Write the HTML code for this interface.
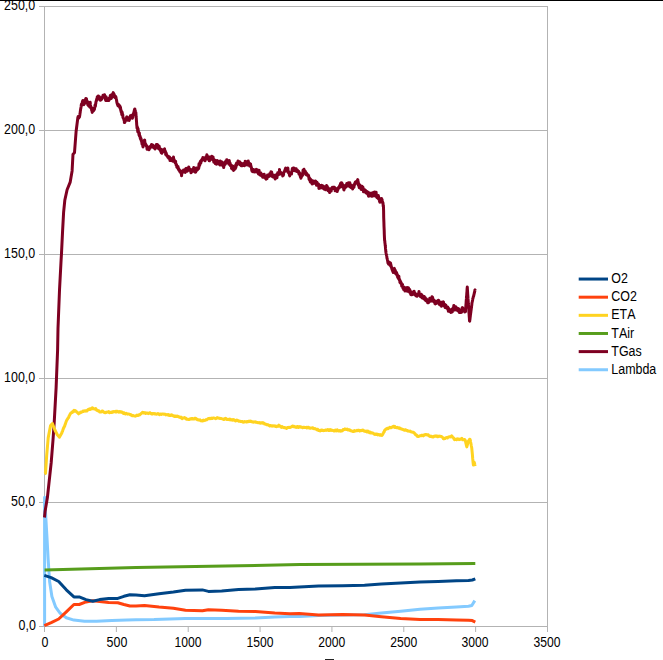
<!DOCTYPE html><html><head><meta charset="utf-8"><title>chart</title><style>html,body{margin:0;padding:0;background:#fff;}svg{display:block}text{font-family:"Liberation Sans",sans-serif;font-size:14.67px;fill:#000;font-kerning:none}</style></head><body>
<svg width="663" height="660" viewBox="0 0 663 660">
<rect x="0" y="0" width="663" height="660" fill="#fff"/>
<line x1="39" y1="6.5" x2="548" y2="6.5" stroke="#b3b3b3" stroke-width="1"/>
<line x1="39" y1="130.5" x2="548" y2="130.5" stroke="#b3b3b3" stroke-width="1"/>
<line x1="39" y1="254.5" x2="548" y2="254.5" stroke="#b3b3b3" stroke-width="1"/>
<line x1="39" y1="378.5" x2="548" y2="378.5" stroke="#b3b3b3" stroke-width="1"/>
<line x1="39" y1="502.5" x2="548" y2="502.5" stroke="#b3b3b3" stroke-width="1"/>
<line x1="39" y1="626.5" x2="548" y2="626.5" stroke="#b3b3b3" stroke-width="1"/>
<line x1="44.5" y1="6" x2="44.5" y2="627" stroke="#b3b3b3" stroke-width="1"/>
<line x1="547.5" y1="6" x2="547.5" y2="632" stroke="#b3b3b3" stroke-width="1"/>
<line x1="44.5" y1="626" x2="44.5" y2="632" stroke="#b3b3b3" stroke-width="1"/>
<line x1="116.36" y1="626" x2="116.36" y2="632" stroke="#b3b3b3" stroke-width="1"/>
<line x1="188.21" y1="626" x2="188.21" y2="632" stroke="#b3b3b3" stroke-width="1"/>
<line x1="260.07" y1="626" x2="260.07" y2="632" stroke="#b3b3b3" stroke-width="1"/>
<line x1="331.93" y1="626" x2="331.93" y2="632" stroke="#b3b3b3" stroke-width="1"/>
<line x1="403.79" y1="626" x2="403.79" y2="632" stroke="#b3b3b3" stroke-width="1"/>
<line x1="475.64" y1="626" x2="475.64" y2="632" stroke="#b3b3b3" stroke-width="1"/>
<line x1="547.5" y1="626" x2="547.5" y2="632" stroke="#b3b3b3" stroke-width="1"/>
<polyline points="44.6,626.5 44.6,497.2 46.9,536.0 48.1,558.7 49.6,581.5 51.9,596.6 55.7,607.2 60.2,613.3 66.3,617.8 73.9,620.1 84.5,621.2 96.6,621.3 111.8,620.5 126.9,620.1 136.0,619.7 154.1,619.5 185.5,618.4 226.5,618.4 255.5,617.9 274.8,617.0 290.0,616.5 299.3,616.4 318.6,615.5 342.7,615.0 364.5,614.8 381.4,613.1 400.7,611.2 420.0,609.2 438.2,607.9 456.4,607.0 468.5,606.3 471.8,605.5 474.8,600.6" fill="none" stroke="#83caff" stroke-width="3.0" stroke-linejoin="round" stroke-linecap="butt"/>
<polyline points="44.5,517.5 45.1,511.2 47.4,497.6 51.2,462.7 53.0,440.0 54.2,422.7 56.1,387.9 57.6,350.0 58.0,328.2 59.5,290.3 61.1,260.0 61.5,253.3 62.6,230.6 63.6,212.4 64.8,200.3 67.1,189.7 70.2,182.1 72.1,170.9 73.0,154.2 74.5,152.7 76.1,131.5 77.9,117.2 78.1,118.1 78.2,116.4 78.4,117.5 78.5,116.6 78.7,116.2 78.8,118.0 79.0,116.9 79.1,116.3 79.3,116.7 79.4,117.1 79.6,116.1 79.7,115.8 79.9,114.4 80.0,113.5 80.2,112.5 80.3,111.3 80.5,110.3 80.6,109.2 80.8,108.5 80.9,107.7 81.1,106.7 81.2,105.7 81.4,104.3 81.5,104.8 81.7,105.0 81.8,105.4 82.0,103.8 82.1,103.6 82.3,101.8 82.4,102.5 82.6,100.9 82.7,101.0 82.9,103.1 83.0,100.5 83.2,102.3 83.3,102.6 83.5,102.4 83.6,103.2 83.8,103.8 83.9,104.7 84.1,104.0 84.2,103.7 84.4,103.2 84.5,102.4 84.7,102.8 84.8,102.0 85.0,103.2 85.1,100.7 85.3,100.4 85.4,100.2 85.6,98.9 85.7,101.9 85.9,98.6 86.0,99.3 86.2,99.1 86.3,101.2 86.5,98.8 86.6,101.1 86.8,100.4 86.9,101.0 87.1,100.9 87.2,102.3 87.4,101.4 87.5,102.3 87.7,103.2 87.8,105.0 88.0,102.0 88.1,104.9 88.3,105.4 88.4,104.3 88.6,104.8 88.7,104.3 88.9,106.2 89.0,105.5 89.2,105.0 89.3,105.0 89.5,105.1 89.6,105.2 89.8,104.7 89.9,107.3 90.1,104.6 90.2,102.3 90.4,104.9 90.5,105.7 90.7,106.6 90.8,106.4 91.0,106.8 91.1,107.6 91.3,108.8 91.4,108.1 91.6,108.3 91.7,110.8 91.9,110.6 92.0,109.4 92.2,112.4 92.3,112.2 92.5,111.2 92.6,110.7 92.8,111.4 92.9,110.4 93.1,109.7 93.2,109.1 93.4,109.4 93.5,110.7 93.7,109.5 93.8,108.0 94.0,109.3 94.1,108.9 94.3,109.3 94.4,109.5 94.6,108.1 94.7,107.2 94.9,106.7 95.0,105.2 95.2,106.0 95.3,106.5 95.5,105.2 95.6,104.0 95.8,103.3 95.9,102.2 96.1,101.5 96.2,101.3 96.4,100.4 96.5,100.3 96.7,99.0 96.8,100.1 97.0,99.9 97.1,98.5 97.3,96.8 97.4,98.1 97.6,99.3 97.7,97.7 97.9,97.2 98.0,96.7 98.2,97.4 98.3,96.0 98.5,97.6 98.6,97.0 98.8,98.1 98.9,97.8 99.1,97.6 99.2,96.5 99.4,97.0 99.5,97.7 99.7,98.9 99.8,99.0 100.0,98.3 100.1,99.3 100.3,100.2 100.4,99.6 100.6,99.3 100.7,99.1 100.9,100.0 101.0,99.9 101.2,98.4 101.3,99.0 101.5,98.2 101.6,97.6 101.8,99.1 101.9,99.0 102.1,97.5 102.2,97.6 102.4,97.9 102.5,96.8 102.7,96.9 102.8,97.5 103.0,95.3 103.1,96.5 103.3,97.1 103.4,96.9 103.6,95.1 103.7,96.0 103.9,95.0 104.0,95.9 104.2,96.1 104.3,95.7 104.5,94.7 104.6,95.0 104.8,96.6 104.9,95.7 105.1,97.0 105.2,97.6 105.4,97.3 105.5,99.9 105.7,98.8 105.8,100.6 106.0,97.6 106.1,96.7 106.3,99.6 106.4,100.4 106.6,100.1 106.7,100.4 106.9,98.6 107.0,99.2 107.2,98.9 107.3,99.5 107.5,100.6 107.6,100.1 107.8,100.1 107.9,99.1 108.1,99.0 108.2,99.3 108.4,99.0 108.5,100.3 108.7,98.6 108.8,100.5 109.0,98.4 109.1,99.5 109.3,98.1 109.4,99.8 109.6,98.8 109.7,98.7 109.9,98.8 110.0,97.5 110.2,96.7 110.3,95.4 110.5,97.9 110.6,96.8 110.8,96.4 110.9,96.8 111.1,98.6 111.2,95.7 111.4,96.4 111.5,95.9 111.7,96.5 111.8,94.4 112.0,95.0 112.1,96.1 112.3,97.0 112.4,97.2 112.6,94.9 112.7,94.9 112.9,94.6 113.0,93.2 113.2,92.6 113.3,94.3 113.5,94.2 113.6,94.0 113.8,95.3 113.9,93.8 114.1,94.9 114.2,94.9 114.4,94.9 114.5,95.6 114.7,95.6 114.8,95.8 115.0,96.0 115.1,97.7 115.3,96.3 115.4,97.2 115.6,97.2 115.7,96.5 115.9,97.1 116.0,97.6 116.2,98.7 116.3,99.1 116.5,99.8 116.6,100.7 116.8,101.6 116.9,102.5 117.1,103.2 117.2,103.7 117.4,103.4 117.5,104.7 117.7,105.0 117.8,104.1 118.0,105.7 118.1,105.6 118.3,104.6 118.4,105.8 118.6,104.6 118.7,104.8 118.9,106.2 119.0,104.9 119.2,106.2 119.3,105.4 119.5,107.2 119.6,106.5 119.8,107.3 119.9,106.1 120.1,107.0 120.2,108.5 120.4,108.8 120.5,107.2 120.7,109.5 120.8,110.6 121.0,110.1 121.1,111.9 121.3,110.6 121.4,111.4 121.6,113.1 121.7,114.1 121.9,114.7 122.0,113.1 122.2,112.3 122.3,114.4 122.5,113.8 122.6,115.1 122.8,114.7 122.9,117.1 123.1,117.8 123.2,118.1 123.4,118.1 123.5,118.4 123.7,118.5 123.8,119.4 124.0,119.9 124.1,120.5 124.3,120.2 124.4,122.6 124.6,121.9 124.7,122.5 124.9,122.5 125.0,120.4 125.2,118.9 125.3,121.1 125.5,120.1 125.6,120.1 125.8,119.7 125.9,119.9 126.1,118.6 126.2,119.1 126.4,118.8 126.5,119.0 126.7,116.9 126.8,119.0 127.0,119.1 127.1,117.1 127.3,117.5 127.4,118.4 127.6,119.2 127.7,119.0 127.9,120.2 128.0,119.3 128.2,118.2 128.3,118.2 128.5,119.5 128.6,118.7 128.8,119.8 128.9,120.3 129.1,120.1 129.2,120.5 129.4,119.6 129.5,119.3 129.7,118.4 129.8,117.9 130.0,116.7 130.1,117.0 130.3,116.4 130.4,115.7 130.6,116.7 130.7,117.1 130.9,116.3 131.0,117.6 131.2,117.7 131.3,117.9 131.5,116.5 131.6,115.3 131.8,116.8 131.9,117.1 132.1,117.6 132.2,117.5 132.4,118.3 132.5,117.2 132.7,117.7 132.8,116.5 133.0,115.5 133.1,115.2 133.3,115.1 133.4,113.9 133.6,113.7 133.7,112.8 133.9,112.2 134.0,111.7 134.2,111.1 134.3,110.3 134.5,109.8 134.6,109.3 134.8,109.8 134.9,109.1 135.1,111.3 135.2,112.6 135.4,113.9 135.5,111.2 135.7,112.1 135.8,112.2 136.0,114.5 136.1,116.7 136.3,118.3 136.4,120.1 136.6,122.5 136.7,124.6 136.9,126.4 137.0,128.1 137.2,126.4 137.3,127.8 137.5,129.3 137.6,130.0 137.8,131.7 137.9,130.0 138.1,128.7 138.2,131.0 138.4,131.0 138.5,132.1 138.7,133.0 138.8,133.4 139.0,134.6 139.1,135.1 139.3,132.7 139.4,133.7 139.6,136.3 139.7,135.3 139.9,136.5 140.0,136.4 140.2,136.3 140.3,138.5 140.5,139.0 140.6,138.4 140.8,139.6 140.9,138.3 141.1,138.8 141.2,140.8 141.4,140.9 141.5,140.3 141.7,141.8 141.8,142.5 142.0,143.9 142.1,144.3 142.3,143.6 142.4,143.6 142.6,144.2 142.7,144.6 142.9,146.6 143.0,147.0 143.2,146.5 143.3,145.1 143.5,143.9 143.6,144.2 143.8,142.8 143.9,142.6 144.1,140.5 144.2,140.7 144.4,142.1 144.5,140.6 144.7,140.1 144.8,141.5 145.0,143.9 145.1,144.7 145.3,143.7 145.4,143.6 145.6,144.2 145.7,144.0 145.9,145.1 146.0,145.4 146.2,144.8 146.3,145.7 146.5,146.5 146.6,146.2 146.8,145.9 146.9,147.7 147.1,149.2 147.2,147.8 147.4,147.3 147.5,148.0 147.7,147.7 147.8,147.1 148.0,149.0 148.1,147.4 148.3,147.3 148.4,147.3 148.6,147.2 148.7,147.8 148.9,148.8 149.0,149.8 149.2,149.3 149.3,148.5 149.5,146.9 149.6,147.5 149.8,146.7 149.9,147.2 150.1,148.2 150.2,147.7 150.4,147.0 150.5,146.2 150.7,146.6 150.8,146.7 151.0,145.7 151.1,145.7 151.3,146.8 151.4,144.8 151.6,145.1 151.7,144.5 151.9,146.7 152.0,146.4 152.2,146.4 152.3,146.4 152.5,146.4 152.6,146.5 152.8,144.9 152.9,146.2 153.1,147.0 153.2,145.6 153.4,147.3 153.5,147.7 153.7,146.0 153.8,146.5 154.0,146.9 154.1,147.0 154.3,147.9 154.4,146.8 154.6,147.5 154.7,148.2 154.9,149.0 155.0,148.7 155.2,148.2 155.3,148.7 155.5,146.4 155.6,148.2 155.8,147.5 155.9,146.3 156.1,146.5 156.2,145.2 156.4,144.5 156.5,145.7 156.7,145.6 156.8,146.8 157.0,145.6 157.1,144.7 157.3,144.6 157.4,146.9 157.6,145.9 157.7,145.3 157.9,145.0 158.0,145.0 158.2,146.0 158.3,147.1 158.5,148.3 158.6,148.8 158.8,148.4 158.9,147.6 159.1,147.4 159.2,146.2 159.4,147.3 159.5,149.1 159.7,149.1 159.8,149.8 160.0,148.7 160.1,150.5 160.3,150.6 160.4,150.6 160.6,151.0 160.7,148.9 160.9,149.9 161.0,150.1 161.2,152.7 161.3,151.9 161.5,151.4 161.6,152.7 161.8,151.5 161.9,153.3 162.1,151.8 162.2,151.8 162.4,151.0 162.5,152.2 162.7,149.7 162.8,151.5 163.0,150.6 163.1,151.0 163.3,150.0 163.4,150.8 163.6,150.9 163.7,151.3 163.9,151.0 164.0,151.1 164.2,151.4 164.3,150.2 164.5,149.0 164.6,148.8 164.8,150.8 164.9,150.6 165.1,152.2 165.2,151.9 165.4,151.2 165.5,152.9 165.7,154.6 165.8,153.5 166.0,152.7 166.1,152.8 166.3,154.6 166.4,154.1 166.6,154.3 166.7,155.6 166.9,155.7 167.0,156.0 167.2,155.7 167.3,155.5 167.5,156.3 167.6,156.6 167.8,157.1 167.9,156.4 168.1,157.0 168.2,157.4 168.4,157.2 168.5,157.7 168.7,158.3 168.8,157.8 169.0,157.6 169.1,156.7 169.3,157.7 169.4,157.7 169.6,157.5 169.7,157.1 169.9,158.3 170.0,160.6 170.2,159.4 170.3,158.8 170.5,159.1 170.6,158.3 170.8,158.8 170.9,158.4 171.1,158.4 171.2,159.3 171.4,159.7 171.5,159.6 171.7,159.1 171.8,160.0 172.0,159.1 172.1,160.7 172.3,160.3 172.4,160.5 172.6,161.1 172.7,161.0 172.9,159.2 173.0,159.5 173.2,160.0 173.3,158.8 173.5,157.1 173.6,158.6 173.8,159.0 173.9,159.4 174.1,159.6 174.2,160.0 174.4,160.4 174.5,161.8 174.7,161.7 174.8,161.9 175.0,161.4 175.1,162.8 175.3,162.3 175.4,163.3 175.6,161.2 175.7,163.0 175.9,163.4 176.0,163.5 176.2,165.3 176.3,165.3 176.5,165.0 176.6,164.8 176.8,167.1 176.9,167.0 177.1,167.1 177.2,166.0 177.4,167.8 177.5,167.9 177.7,167.4 177.8,167.6 178.0,166.5 178.1,168.4 178.3,167.6 178.4,169.4 178.6,168.9 178.7,168.8 178.9,169.9 179.0,170.3 179.2,169.4 179.3,170.3 179.5,171.3 179.6,171.0 179.8,170.1 179.9,171.0 180.1,170.8 180.2,171.3 180.4,172.1 180.5,172.5 180.7,172.6 180.8,171.5 181.0,173.2 181.1,173.3 181.3,173.4 181.4,174.0 181.6,175.8 181.7,173.1 181.9,171.7 182.0,173.2 182.2,171.9 182.3,173.2 182.5,171.3 182.6,170.9 182.8,171.7 182.9,171.7 183.1,171.2 183.2,171.1 183.4,170.5 183.5,170.0 183.7,170.0 183.8,171.4 184.0,171.2 184.1,170.5 184.3,170.6 184.4,171.0 184.6,171.4 184.7,170.3 184.9,170.0 185.0,170.3 185.2,172.4 185.3,170.9 185.5,171.3 185.6,168.9 185.8,170.3 185.9,168.6 186.1,168.4 186.2,168.7 186.4,169.1 186.5,169.5 186.7,169.7 186.8,169.5 187.0,168.8 187.1,171.3 187.3,169.9 187.4,169.7 187.6,170.8 187.7,170.1 187.9,169.5 188.0,169.0 188.2,170.2 188.3,167.8 188.5,167.4 188.6,168.4 188.8,166.9 188.9,167.7 189.1,169.8 189.2,169.1 189.4,169.6 189.5,170.3 189.7,169.0 189.8,170.0 190.0,169.7 190.1,169.3 190.3,170.0 190.4,170.5 190.6,170.5 190.7,170.4 190.9,172.0 191.0,172.7 191.2,172.6 191.3,172.1 191.5,171.0 191.6,170.6 191.8,170.0 191.9,170.8 192.1,171.4 192.2,171.4 192.4,170.3 192.5,169.5 192.7,169.5 192.8,169.2 193.0,169.5 193.1,170.5 193.3,169.0 193.4,171.1 193.6,168.0 193.7,167.5 193.9,167.6 194.0,168.2 194.2,169.1 194.3,171.5 194.5,169.8 194.6,171.0 194.8,170.1 194.9,170.4 195.1,169.5 195.2,172.3 195.4,170.9 195.5,169.9 195.7,172.1 195.8,170.8 196.0,170.5 196.1,169.9 196.3,169.0 196.4,168.1 196.6,168.9 196.7,170.6 196.9,170.0 197.0,169.2 197.2,170.0 197.3,168.3 197.5,169.8 197.6,169.0 197.8,167.9 197.9,168.8 198.1,168.9 198.2,168.1 198.4,168.0 198.5,168.3 198.7,168.5 198.8,166.3 199.0,163.8 199.1,166.9 199.3,165.5 199.4,164.7 199.6,164.9 199.7,163.9 199.9,164.7 200.0,162.6 200.2,162.6 200.3,161.4 200.5,163.2 200.6,162.0 200.8,162.7 200.9,163.0 201.1,160.5 201.2,160.5 201.4,161.2 201.5,160.6 201.7,160.1 201.8,160.6 202.0,160.6 202.1,159.1 202.3,158.9 202.4,159.3 202.6,158.9 202.7,158.5 202.9,157.4 203.0,159.7 203.2,158.6 203.3,158.8 203.5,158.6 203.6,158.7 203.8,158.8 203.9,158.0 204.1,158.9 204.2,159.9 204.4,159.6 204.5,159.8 204.7,159.7 204.8,159.3 205.0,160.8 205.1,158.9 205.3,159.1 205.4,159.7 205.6,159.0 205.7,157.5 205.9,156.9 206.0,159.0 206.2,157.2 206.3,157.4 206.5,157.9 206.6,157.5 206.8,155.6 206.9,154.7 207.1,156.1 207.2,156.2 207.4,156.9 207.5,157.6 207.7,158.1 207.8,157.1 208.0,156.7 208.1,159.1 208.3,158.6 208.4,158.1 208.6,157.4 208.7,159.7 208.9,159.0 209.0,159.1 209.2,160.7 209.3,160.7 209.5,160.8 209.6,159.1 209.8,157.0 209.9,158.0 210.1,158.7 210.2,158.5 210.4,159.8 210.5,159.5 210.7,158.1 210.8,159.0 211.0,158.5 211.1,157.9 211.3,159.1 211.4,156.8 211.6,158.4 211.7,158.9 211.9,156.2 212.0,157.2 212.2,157.7 212.3,157.1 212.5,157.6 212.6,157.6 212.8,158.6 212.9,158.4 213.1,157.1 213.2,159.8 213.4,160.5 213.5,159.3 213.7,160.6 213.8,162.2 214.0,159.5 214.1,159.9 214.3,160.1 214.4,161.2 214.6,160.9 214.7,160.0 214.9,162.1 215.0,161.4 215.2,162.1 215.3,163.7 215.5,161.5 215.6,161.1 215.8,162.2 215.9,161.7 216.1,162.1 216.2,161.7 216.4,164.2 216.5,163.0 216.7,162.4 216.8,162.0 217.0,162.1 217.1,160.4 217.3,161.1 217.4,162.2 217.6,160.8 217.7,161.5 217.9,161.6 218.0,161.3 218.2,163.9 218.3,163.1 218.5,162.5 218.6,161.4 218.8,161.8 218.9,161.6 219.1,161.7 219.2,162.1 219.4,164.3 219.5,163.9 219.7,164.1 219.8,163.9 220.0,165.1 220.1,162.4 220.3,161.0 220.4,161.9 220.6,162.3 220.7,162.2 220.9,161.6 221.0,162.7 221.2,164.2 221.3,163.4 221.5,162.9 221.6,164.3 221.8,163.4 221.9,163.3 222.1,164.1 222.2,162.1 222.4,165.4 222.5,164.8 222.7,165.3 222.8,165.4 223.0,165.7 223.1,164.1 223.3,166.3 223.4,165.8 223.6,165.3 223.7,167.6 223.9,164.2 224.0,164.9 224.2,164.2 224.3,162.7 224.5,165.2 224.6,162.7 224.8,163.4 224.9,163.3 225.1,163.4 225.2,162.3 225.4,164.0 225.5,163.3 225.7,161.7 225.8,161.1 226.0,162.2 226.1,161.1 226.3,162.2 226.4,162.3 226.6,161.4 226.7,159.8 226.9,159.8 227.0,161.2 227.2,160.7 227.3,162.6 227.5,161.0 227.6,161.2 227.8,161.7 227.9,161.5 228.1,161.8 228.2,162.7 228.4,162.0 228.5,162.4 228.7,162.0 228.8,164.2 229.0,163.3 229.1,163.8 229.3,160.6 229.4,162.1 229.6,162.1 229.7,163.3 229.9,163.4 230.0,163.0 230.2,163.7 230.3,165.0 230.5,165.8 230.6,164.7 230.8,166.0 230.9,165.0 231.1,165.9 231.2,165.0 231.4,166.6 231.5,168.4 231.7,166.7 231.8,167.7 232.0,165.7 232.1,165.9 232.3,169.1 232.4,167.7 232.6,167.9 232.7,166.1 232.9,167.2 233.0,166.9 233.2,168.7 233.3,167.8 233.5,170.4 233.6,168.0 233.8,168.7 233.9,166.9 234.1,167.9 234.2,169.7 234.4,169.2 234.5,167.8 234.7,168.7 234.8,169.2 235.0,168.7 235.1,168.8 235.3,166.4 235.4,168.5 235.6,167.9 235.7,164.9 235.9,167.4 236.0,165.9 236.2,166.1 236.3,163.8 236.5,164.1 236.6,163.0 236.8,164.9 236.9,164.3 237.1,163.3 237.2,163.4 237.4,164.5 237.5,163.0 237.7,163.6 237.8,162.0 238.0,160.9 238.1,161.5 238.3,161.8 238.4,162.5 238.6,163.5 238.7,162.7 238.9,162.6 239.0,163.7 239.2,163.8 239.3,163.5 239.5,163.8 239.6,161.8 239.8,162.8 239.9,162.2 240.1,163.3 240.2,164.9 240.4,163.1 240.5,165.0 240.7,164.4 240.8,164.6 241.0,164.5 241.1,165.7 241.3,164.8 241.4,163.2 241.6,164.9 241.7,164.9 241.9,165.6 242.0,165.8 242.2,164.2 242.3,164.9 242.5,165.1 242.6,164.9 242.8,165.0 242.9,165.2 243.1,164.4 243.2,164.5 243.4,165.5 243.5,164.0 243.7,164.4 243.8,163.6 244.0,163.3 244.1,163.8 244.3,164.4 244.4,165.7 244.6,164.5 244.7,165.1 244.9,164.9 245.0,164.3 245.2,161.2 245.3,163.2 245.5,163.6 245.6,162.7 245.8,163.4 245.9,164.8 246.1,162.8 246.2,162.7 246.4,163.9 246.5,161.7 246.7,161.7 246.8,162.9 247.0,163.7 247.1,164.2 247.3,163.8 247.4,165.1 247.6,163.6 247.7,161.6 247.9,162.0 248.0,162.7 248.2,163.0 248.3,161.1 248.5,162.8 248.6,162.3 248.8,162.9 248.9,164.7 249.1,163.9 249.2,163.3 249.4,163.8 249.5,163.6 249.7,166.1 249.8,165.9 250.0,166.0 250.1,164.8 250.3,164.6 250.4,165.6 250.6,163.9 250.7,166.6 250.9,165.5 251.0,166.7 251.2,167.5 251.3,167.0 251.5,168.1 251.6,169.0 251.8,170.6 251.9,169.9 252.1,171.3 252.2,170.7 252.4,170.1 252.5,171.2 252.7,170.4 252.8,170.7 253.0,171.2 253.1,171.8 253.3,171.2 253.4,169.5 253.6,171.4 253.7,171.0 253.9,170.5 254.0,169.8 254.2,170.9 254.3,171.0 254.5,171.3 254.6,170.7 254.8,172.0 254.9,170.8 255.1,171.0 255.2,170.9 255.4,171.7 255.5,170.3 255.7,170.2 255.8,170.3 256.0,169.9 256.1,169.8 256.3,169.3 256.4,170.9 256.6,172.1 256.7,170.4 256.9,171.5 257.0,170.2 257.2,170.2 257.3,170.7 257.5,171.3 257.6,171.9 257.8,170.0 257.9,170.1 258.1,171.4 258.2,171.6 258.4,173.9 258.5,172.5 258.7,171.8 258.8,173.4 259.0,170.4 259.1,170.3 259.3,174.5 259.4,172.9 259.6,173.1 259.7,173.1 259.9,172.6 260.0,173.3 260.2,172.6 260.3,174.5 260.5,175.1 260.6,175.3 260.8,174.1 260.9,172.9 261.1,174.0 261.2,173.9 261.4,175.4 261.5,174.2 261.7,174.6 261.8,175.6 262.0,176.1 262.1,175.9 262.3,174.6 262.4,174.7 262.6,177.2 262.7,176.9 262.9,175.2 263.0,177.1 263.2,175.8 263.3,175.5 263.5,174.6 263.6,176.4 263.8,175.7 263.9,175.3 264.1,174.6 264.2,174.2 264.4,175.5 264.5,175.9 264.7,177.6 264.8,176.0 265.0,176.1 265.1,177.5 265.3,177.9 265.4,176.8 265.6,178.6 265.7,178.3 265.9,178.8 266.0,178.6 266.2,179.2 266.3,178.0 266.5,177.7 266.6,178.7 266.8,178.3 266.9,178.0 267.1,178.5 267.2,177.8 267.4,177.6 267.5,175.1 267.7,175.7 267.8,177.0 268.0,175.8 268.1,175.8 268.3,176.2 268.4,175.9 268.6,176.6 268.7,176.3 268.9,175.6 269.0,176.4 269.2,175.2 269.3,174.4 269.5,175.0 269.6,175.4 269.8,174.7 269.9,173.5 270.1,173.6 270.2,174.2 270.4,174.7 270.5,175.7 270.7,174.1 270.8,173.5 271.0,171.8 271.1,174.5 271.3,175.1 271.4,174.5 271.6,173.8 271.7,172.0 271.9,174.6 272.0,174.1 272.2,176.1 272.3,176.2 272.5,176.8 272.6,175.8 272.8,176.8 272.9,174.9 273.1,177.0 273.2,176.3 273.4,175.1 273.5,175.6 273.7,175.2 273.8,176.3 274.0,175.8 274.1,175.3 274.3,176.0 274.4,176.4 274.6,177.0 274.7,177.6 274.9,178.4 275.0,178.0 275.2,179.0 275.3,175.7 275.5,176.6 275.6,177.7 275.8,175.8 275.9,176.1 276.1,176.5 276.2,174.8 276.4,175.1 276.5,176.1 276.7,175.4 276.8,176.8 277.0,177.8 277.1,175.7 277.3,174.0 277.4,174.4 277.6,173.9 277.7,172.8 277.9,173.3 278.0,173.3 278.2,173.3 278.3,174.3 278.5,174.7 278.6,174.1 278.8,173.1 278.9,173.4 279.1,173.0 279.2,173.0 279.4,171.8 279.5,169.4 279.7,172.1 279.8,171.5 280.0,171.6 280.1,172.2 280.3,172.4 280.4,172.4 280.6,174.1 280.7,173.5 280.9,173.5 281.0,172.6 281.2,173.1 281.3,173.9 281.5,173.8 281.6,174.2 281.8,173.3 281.9,174.3 282.1,173.5 282.2,173.8 282.4,173.7 282.5,174.7 282.7,175.9 282.8,175.6 283.0,174.5 283.1,174.7 283.3,175.3 283.4,174.9 283.6,174.4 283.7,172.5 283.9,172.2 284.0,171.8 284.2,171.6 284.3,171.9 284.5,171.6 284.6,170.9 284.8,171.3 284.9,170.0 285.1,169.7 285.2,169.8 285.4,168.5 285.5,168.6 285.7,168.1 285.8,168.2 286.0,169.0 286.1,169.2 286.3,169.7 286.4,169.8 286.6,168.5 286.7,170.7 286.9,170.9 287.0,168.6 287.2,168.4 287.3,168.5 287.5,169.2 287.6,170.1 287.8,170.1 287.9,168.0 288.1,172.5 288.2,172.3 288.4,172.4 288.5,171.3 288.7,172.0 288.8,173.2 289.0,172.5 289.1,174.0 289.3,173.7 289.4,175.2 289.6,174.6 289.7,175.9 289.9,173.1 290.0,174.9 290.2,174.3 290.3,173.2 290.5,174.0 290.6,172.8 290.8,173.3 290.9,173.4 291.1,173.3 291.2,174.1 291.4,173.4 291.5,174.1 291.7,172.4 291.8,171.3 292.0,171.0 292.1,170.3 292.3,168.8 292.4,169.4 292.6,168.2 292.7,168.5 292.9,168.7 293.0,168.5 293.2,168.0 293.3,169.0 293.5,169.2 293.6,170.5 293.8,170.3 293.9,170.5 294.1,169.3 294.2,169.1 294.4,168.3 294.5,168.4 294.7,169.8 294.8,169.5 295.0,169.5 295.1,169.1 295.3,170.9 295.4,170.0 295.6,170.9 295.7,170.1 295.9,170.8 296.0,169.4 296.2,168.7 296.3,170.8 296.5,170.2 296.6,170.6 296.8,171.4 296.9,171.5 297.1,171.3 297.2,170.0 297.4,170.1 297.5,170.9 297.7,171.7 297.8,171.9 298.0,172.0 298.1,171.0 298.3,171.5 298.4,172.6 298.6,171.4 298.7,171.3 298.9,172.8 299.0,174.2 299.2,173.8 299.3,173.5 299.5,172.8 299.6,173.6 299.8,173.5 299.9,174.5 300.1,175.6 300.2,175.9 300.4,177.0 300.5,175.5 300.6,175.1 300.8,177.5 300.9,178.2 301.1,176.9 301.2,177.0 301.4,175.7 301.5,176.1 301.7,176.2 301.8,176.6 302.0,174.8 302.1,173.7 302.3,174.8 302.4,174.1 302.6,175.2 302.7,173.0 302.9,172.5 303.0,170.3 303.2,172.8 303.3,173.6 303.5,172.7 303.6,171.6 303.8,169.4 303.9,169.2 304.1,169.6 304.2,172.2 304.4,172.1 304.5,170.9 304.7,171.5 304.8,172.0 305.0,172.1 305.1,171.0 305.3,171.2 305.4,172.7 305.6,172.9 305.7,172.2 305.9,174.6 306.0,173.5 306.2,172.6 306.3,173.6 306.5,174.0 306.6,173.3 306.8,175.0 306.9,174.9 307.1,174.1 307.2,174.7 307.4,175.0 307.5,174.5 307.7,175.5 307.8,174.8 308.0,175.1 308.1,176.2 308.3,175.0 308.4,175.7 308.6,175.6 308.7,177.2 308.9,176.8 309.0,179.0 309.2,179.6 309.3,178.0 309.5,178.5 309.6,178.2 309.8,178.6 309.9,179.5 310.1,180.6 310.2,181.7 310.4,181.9 310.5,179.2 310.7,179.3 310.8,179.7 311.0,179.9 311.1,180.4 311.3,181.2 311.4,180.6 311.6,180.4 311.7,183.1 311.9,182.6 312.0,183.9 312.2,181.9 312.3,183.2 312.5,183.9 312.6,183.8 312.8,181.9 312.9,182.5 313.1,181.5 313.2,180.9 313.4,181.8 313.5,182.5 313.7,182.1 313.8,182.0 314.0,182.7 314.1,181.7 314.3,182.5 314.4,183.0 314.6,183.1 314.7,183.0 314.9,181.6 315.0,181.8 315.2,181.8 315.3,182.8 315.5,181.1 315.6,182.3 315.8,181.3 315.9,183.1 316.1,182.6 316.2,183.1 316.4,184.2 316.5,185.3 316.7,183.3 316.8,183.8 317.0,182.2 317.1,183.4 317.3,183.4 317.4,184.7 317.6,184.5 317.7,184.8 317.9,183.8 318.0,184.4 318.2,184.0 318.3,185.0 318.5,183.9 318.6,185.4 318.8,186.7 318.9,188.5 319.1,188.2 319.2,188.1 319.4,187.6 319.5,188.3 319.7,187.2 319.8,187.3 320.0,185.5 320.1,186.2 320.3,188.1 320.4,186.1 320.6,187.5 320.7,187.4 320.9,187.1 321.0,187.5 321.2,187.3 321.3,186.1 321.5,186.7 321.6,185.2 321.8,187.7 321.9,187.0 322.1,187.5 322.2,186.0 322.4,187.9 322.5,187.7 322.7,187.0 322.8,186.6 323.0,186.7 323.1,185.9 323.3,186.4 323.4,186.6 323.6,187.3 323.7,188.7 323.9,188.9 324.0,188.3 324.2,188.6 324.3,188.0 324.5,187.8 324.6,186.8 324.8,187.0 324.9,187.2 325.1,188.5 325.2,188.7 325.4,189.1 325.5,189.7 325.7,189.3 325.8,188.3 326.0,187.5 326.1,187.3 326.3,187.9 326.4,186.5 326.6,185.4 326.7,186.2 326.9,187.9 327.0,188.7 327.2,188.5 327.3,186.4 327.5,187.5 327.6,188.7 327.8,189.6 327.9,190.7 328.1,188.7 328.2,189.4 328.4,188.1 328.5,189.1 328.7,189.4 328.8,190.7 329.0,190.7 329.1,189.1 329.3,190.2 329.4,191.2 329.6,192.6 329.7,191.1 329.9,190.4 330.0,190.3 330.2,191.6 330.3,190.7 330.5,190.6 330.6,190.8 330.8,189.7 330.9,190.9 331.1,188.7 331.2,191.1 331.4,189.4 331.5,188.6 331.7,188.4 331.8,187.9 332.0,187.8 332.1,187.8 332.3,187.4 332.4,188.0 332.6,188.5 332.7,187.8 332.9,188.3 333.0,187.6 333.2,188.3 333.3,188.0 333.5,187.2 333.6,188.1 333.8,188.1 333.9,187.6 334.1,188.1 334.2,188.7 334.4,187.3 334.5,187.6 334.7,188.6 334.8,188.4 335.0,189.0 335.1,190.8 335.3,188.2 335.4,189.0 335.6,188.6 335.7,190.3 335.9,190.1 336.0,188.4 336.2,190.2 336.3,189.9 336.5,189.6 336.6,189.9 336.8,190.3 336.9,189.5 337.1,189.8 337.2,191.6 337.4,189.8 337.5,189.4 337.7,190.4 337.8,188.9 338.0,189.0 338.1,189.3 338.3,188.1 338.4,188.1 338.6,187.4 338.7,187.6 338.9,187.9 339.0,187.6 339.2,187.6 339.3,187.5 339.5,187.6 339.6,185.7 339.8,186.0 339.9,187.1 340.1,185.6 340.2,184.8 340.4,184.6 340.5,183.6 340.7,184.3 340.8,183.7 341.0,183.1 341.1,183.7 341.3,184.6 341.4,182.7 341.6,183.2 341.7,183.7 341.9,183.0 342.0,184.9 342.2,186.9 342.3,186.5 342.5,187.0 342.6,184.4 342.8,185.2 342.9,184.8 343.1,186.8 343.2,186.8 343.4,186.9 343.5,187.7 343.7,188.4 343.8,189.6 344.0,189.9 344.1,189.6 344.3,187.0 344.4,188.7 344.6,188.0 344.7,186.2 344.9,187.0 345.0,186.8 345.2,186.7 345.3,187.5 345.5,185.5 345.6,186.6 345.8,187.2 345.9,185.2 346.1,186.7 346.2,185.2 346.4,184.5 346.5,185.9 346.7,185.4 346.8,183.6 347.0,184.1 347.1,185.4 347.3,184.7 347.4,184.5 347.6,184.9 347.7,184.9 347.9,184.3 348.0,183.9 348.2,185.0 348.3,186.0 348.5,182.8 348.6,184.5 348.8,185.6 348.9,184.1 349.1,185.8 349.2,183.6 349.4,185.1 349.5,186.2 349.7,186.4 349.8,182.8 350.0,184.3 350.1,184.0 350.3,185.2 350.4,186.6 350.6,186.3 350.7,187.4 350.9,184.9 351.0,185.0 351.2,185.4 351.3,186.8 351.5,187.8 351.6,186.3 351.8,186.0 351.9,187.6 352.1,186.2 352.2,187.6 352.4,186.9 352.5,187.1 352.7,189.0 352.8,187.3 353.0,187.0 353.1,186.0 353.3,186.8 353.4,187.8 353.6,187.1 353.7,185.1 353.9,185.8 354.0,187.0 354.2,185.0 354.3,185.0 354.5,184.1 354.6,184.0 354.8,183.5 354.9,182.9 355.1,184.3 355.2,184.0 355.4,181.9 355.5,182.2 355.7,182.4 355.8,182.0 356.0,182.9 356.1,182.7 356.3,183.0 356.4,181.4 356.6,181.3 356.7,181.4 356.9,181.3 357.0,181.2 357.2,180.6 357.3,180.9 357.5,182.5 357.6,180.6 357.8,179.6 357.9,181.5 358.1,181.3 358.2,183.2 358.4,184.4 358.5,185.6 358.7,185.0 358.8,183.5 359.0,186.5 359.1,187.1 359.3,187.7 359.4,186.8 359.6,186.2 359.7,186.5 359.9,184.9 360.0,187.1 360.2,186.4 360.3,186.2 360.5,187.2 360.6,186.4 360.8,187.7 360.9,186.9 361.1,189.5 361.2,189.3 361.4,188.8 361.5,188.4 361.7,188.1 361.8,187.6 362.0,186.3 362.1,187.2 362.3,187.3 362.4,187.7 362.6,188.4 362.7,186.9 362.9,187.1 363.0,187.8 363.2,188.3 363.3,189.7 363.5,191.8 363.6,190.0 363.8,190.2 363.9,189.8 364.1,190.0 364.2,191.5 364.4,190.6 364.5,190.8 364.7,190.4 364.8,189.8 365.0,191.2 365.1,190.6 365.3,192.0 365.4,190.2 365.6,191.1 365.7,192.7 365.9,191.1 366.0,191.7 366.2,192.9 366.3,192.5 366.5,191.3 366.6,191.5 366.8,192.3 366.9,191.8 367.1,191.9 367.2,192.5 367.4,191.6 367.5,194.0 367.7,192.8 367.8,193.1 368.0,193.4 368.1,194.8 368.3,193.7 368.4,195.6 368.6,196.1 368.7,195.3 368.9,193.2 369.0,192.7 369.2,193.6 369.3,194.5 369.5,195.1 369.6,195.9 369.8,195.5 369.9,195.1 370.1,195.4 370.2,193.4 370.4,195.7 370.5,194.1 370.7,193.3 370.8,194.2 371.0,194.9 371.1,194.4 371.3,195.3 371.4,195.8 371.6,196.2 371.7,196.1 371.9,195.1 372.0,195.2 372.2,196.2 372.3,195.0 372.5,194.7 372.6,192.7 372.8,194.1 372.9,196.1 373.1,195.3 373.2,194.1 373.4,195.0 373.5,195.2 373.7,195.3 373.8,193.0 374.0,192.3 374.1,193.7 374.3,193.9 374.4,193.9 374.6,192.1 374.7,193.6 374.9,195.0 375.0,194.7 375.2,195.9 375.3,194.3 375.5,193.4 375.6,195.0 375.8,195.0 375.9,192.2 376.1,192.2 376.2,194.1 376.4,194.2 376.5,196.5 376.7,197.2 376.8,197.4 377.0,196.2 377.1,196.1 377.3,197.2 377.4,196.7 377.6,197.6 377.7,197.8 377.9,198.4 378.0,198.2 378.2,197.5 378.3,195.5 378.5,196.5 378.6,196.8 378.8,199.1 378.9,198.0 379.1,198.6 379.2,199.9 379.4,200.7 379.5,201.4 379.7,201.3 379.8,202.2 380.0,200.6 380.1,201.7 380.3,199.8 380.4,200.1 380.6,201.0 380.7,201.5 380.9,200.8 381.0,200.3 381.2,199.7 381.3,198.5 381.5,198.5 381.6,201.8 381.8,199.7 381.9,199.3 382.1,199.5 382.2,201.1 382.4,201.9 382.5,202.2 382.7,202.0 382.8,203.3 383.0,202.8 383.1,204.6 383.3,206.5 383.4,205.2 383.6,210.5 383.7,217.5 383.9,222.5 384.0,226.2 384.2,230.3 384.3,234.3 384.5,238.5 384.6,240.3 384.8,241.0 384.9,242.8 385.1,243.9 385.2,245.3 385.4,246.6 385.5,248.4 385.7,250.1 385.8,251.3 386.0,252.8 386.1,253.3 386.3,254.1 386.4,254.6 386.6,255.6 386.7,255.9 386.9,257.5 387.0,258.3 387.2,258.6 387.3,259.3 387.5,260.0 387.6,260.9 387.8,261.7 387.9,262.8 388.1,263.1 388.2,261.9 388.4,263.3 388.5,263.9 388.7,262.9 388.8,264.1 389.0,263.6 389.1,262.9 389.3,263.3 389.4,262.3 389.6,262.8 389.7,264.9 389.9,265.1 390.0,264.6 390.2,264.0 390.3,264.0 390.5,262.9 390.6,264.2 390.8,264.2 390.9,264.6 391.1,267.0 391.2,266.0 391.4,266.7 391.5,267.3 391.7,268.6 391.8,268.3 392.0,269.1 392.1,269.6 392.3,269.6 392.4,269.6 392.6,269.5 392.7,271.5 392.9,270.2 393.0,271.6 393.2,272.5 393.3,270.7 393.5,269.7 393.6,269.4 393.8,269.7 393.9,271.4 394.1,269.9 394.2,269.2 394.4,268.4 394.5,269.7 394.7,270.4 394.8,271.5 395.0,270.7 395.1,270.3 395.3,270.4 395.4,273.4 395.6,273.3 395.7,272.8 395.9,271.8 396.0,271.8 396.2,272.1 396.3,272.4 396.5,273.3 396.6,272.7 396.8,275.0 396.9,273.4 397.1,274.6 397.2,275.2 397.4,275.9 397.5,276.7 397.7,276.2 397.8,276.2 398.0,277.6 398.1,278.1 398.3,277.3 398.4,278.1 398.6,276.7 398.7,277.9 398.9,276.3 399.0,279.1 399.2,278.4 399.3,279.9 399.5,280.2 399.6,279.5 399.8,280.9 399.9,282.3 400.1,280.6 400.2,282.9 400.4,282.4 400.5,281.4 400.7,281.9 400.8,282.8 401.0,283.6 401.1,282.7 401.3,283.0 401.4,284.0 401.6,284.3 401.7,286.1 401.9,285.8 402.0,286.0 402.2,284.6 402.3,284.4 402.5,284.4 402.6,285.4 402.8,286.6 402.9,288.1 403.1,288.1 403.2,286.6 403.4,287.0 403.5,289.4 403.7,288.4 403.8,288.7 404.0,287.2 404.1,287.0 404.3,287.9 404.4,288.6 404.6,289.5 404.7,289.2 404.9,287.7 405.0,291.1 405.2,290.3 405.3,288.2 405.5,290.6 405.6,290.6 405.8,289.8 405.9,289.7 406.1,290.2 406.2,287.8 406.4,290.1 406.5,290.2 406.7,290.6 406.8,289.6 407.0,289.3 407.1,291.3 407.3,287.4 407.4,290.3 407.6,291.1 407.7,288.7 407.9,289.2 408.0,288.9 408.2,288.9 408.3,288.2 408.5,287.8 408.6,289.0 408.8,288.9 408.9,289.6 409.1,290.0 409.2,289.2 409.4,291.6 409.5,292.1 409.7,289.6 409.8,290.3 410.0,290.5 410.1,291.5 410.3,290.7 410.4,293.1 410.6,292.2 410.7,294.4 410.9,292.7 411.0,294.8 411.2,294.3 411.3,294.8 411.5,294.6 411.6,294.8 411.8,293.8 411.9,294.1 412.1,293.6 412.2,293.8 412.4,293.7 412.5,294.6 412.7,294.4 412.8,293.7 413.0,292.1 413.1,294.0 413.3,293.0 413.4,292.9 413.6,293.6 413.7,293.3 413.9,293.2 414.0,293.2 414.2,291.3 414.3,293.0 414.5,292.6 414.6,293.6 414.8,293.4 414.9,293.0 415.1,294.7 415.2,294.1 415.4,294.9 415.5,294.8 415.7,295.1 415.8,295.6 416.0,295.4 416.1,294.1 416.3,294.5 416.4,296.1 416.6,295.4 416.7,295.1 416.9,295.5 417.0,296.2 417.2,294.8 417.3,294.9 417.5,294.6 417.6,294.1 417.8,295.2 417.9,294.3 418.1,294.4 418.2,294.7 418.4,294.8 418.5,294.7 418.7,294.8 418.8,293.4 419.0,291.4 419.1,293.8 419.3,295.4 419.4,294.1 419.6,294.2 419.7,295.1 419.9,294.0 420.0,294.4 420.2,294.3 420.3,295.3 420.5,295.3 420.6,296.8 420.8,295.0 420.9,294.8 421.1,294.2 421.2,295.6 421.4,295.8 421.5,295.9 421.7,296.8 421.8,295.7 422.0,295.0 422.1,298.0 422.3,297.0 422.4,295.9 422.6,297.4 422.7,297.1 422.9,296.1 423.0,296.9 423.2,297.9 423.3,297.9 423.5,297.2 423.6,298.6 423.8,296.8 423.9,296.9 424.1,297.6 424.2,296.5 424.4,297.7 424.5,297.9 424.7,298.6 424.8,298.4 425.0,300.0 425.1,297.6 425.3,297.9 425.4,298.0 425.6,298.7 425.7,299.6 425.9,298.5 426.0,300.1 426.2,300.9 426.3,300.3 426.5,299.0 426.6,300.5 426.8,300.9 426.9,300.0 427.1,300.1 427.2,300.4 427.4,299.8 427.5,301.4 427.7,302.7 427.8,302.4 428.0,301.2 428.1,301.2 428.3,301.2 428.4,302.7 428.6,301.0 428.7,301.2 428.9,300.4 429.0,301.3 429.2,299.7 429.3,300.3 429.5,299.6 429.6,300.0 429.8,298.3 429.9,298.8 430.1,300.0 430.2,300.0 430.4,298.5 430.5,301.3 430.7,300.2 430.8,299.2 431.0,298.9 431.1,298.2 431.3,300.3 431.4,300.6 431.6,300.9 431.7,298.8 431.9,297.4 432.0,296.7 432.2,297.1 432.3,298.0 432.5,297.7 432.6,297.2 432.8,299.2 432.9,298.9 433.1,299.9 433.2,301.1 433.4,299.8 433.5,299.9 433.7,301.7 433.8,299.9 434.0,300.4 434.1,300.2 434.3,301.1 434.4,301.2 434.6,302.1 434.7,301.9 434.9,303.5 435.0,302.4 435.2,302.9 435.3,303.9 435.5,302.9 435.6,302.7 435.8,302.9 435.9,302.6 436.1,303.5 436.2,302.3 436.4,301.2 436.5,302.6 436.7,301.7 436.8,301.4 437.0,301.6 437.1,302.8 437.3,302.7 437.4,302.1 437.6,301.8 437.7,301.0 437.9,302.6 438.0,302.4 438.2,300.5 438.3,301.8 438.5,300.3 438.6,300.4 438.8,300.7 438.9,303.0 439.1,304.2 439.2,302.9 439.4,302.2 439.5,303.8 439.7,302.7 439.8,304.5 440.0,302.8 440.1,304.2 440.3,303.2 440.4,305.3 440.6,304.6 440.7,303.9 440.9,304.5 441.0,302.2 441.2,303.6 441.3,304.5 441.5,306.2 441.6,303.6 441.8,304.7 441.9,305.1 442.1,304.6 442.2,303.4 442.4,303.4 442.5,302.4 442.7,303.1 442.8,301.9 443.0,302.0 443.1,302.6 443.3,302.1 443.4,301.8 443.6,302.9 443.7,303.7 443.9,304.4 444.0,304.6 444.2,305.9 444.3,304.9 444.5,306.0 444.6,304.3 444.8,305.5 444.9,306.1 445.1,307.4 445.2,305.7 445.4,307.6 445.5,306.5 445.7,306.1 445.8,305.0 446.0,307.1 446.1,306.6 446.3,307.8 446.4,307.7 446.6,308.3 446.7,308.0 446.9,307.3 447.0,307.4 447.2,307.9 447.3,308.6 447.5,307.8 447.6,309.2 447.8,307.1 447.9,307.2 448.1,309.1 448.2,309.5 448.4,311.3 448.5,311.0 448.7,309.2 448.8,308.6 449.0,309.6 449.1,309.9 449.3,310.8 449.4,310.1 449.6,309.8 449.7,309.8 449.9,310.5 450.0,310.1 450.2,310.7 450.3,311.8 450.5,311.4 450.6,310.6 450.8,311.9 450.9,312.5 451.1,311.0 451.2,310.9 451.4,309.7 451.5,309.7 451.7,309.5 451.8,309.2 452.0,309.6 452.1,311.9 452.3,311.9 452.4,310.3 452.6,310.5 452.7,310.1 452.9,309.9 453.0,307.9 453.2,308.8 453.3,308.1 453.5,308.4 453.6,308.7 453.8,305.6 453.9,305.6 454.1,308.3 454.2,309.9 454.4,310.0 454.5,308.1 454.7,308.2 454.8,309.1 455.0,308.6 455.1,306.6 455.3,308.7 455.4,308.0 455.6,308.3 455.7,306.8 455.9,306.9 456.0,309.0 456.2,308.1 456.3,308.7 456.5,309.9 456.6,308.7 456.8,308.4 456.9,308.0 457.1,309.1 457.2,309.1 457.4,309.3 457.5,310.5 457.7,310.0 457.8,310.7 458.0,309.1 458.1,309.3 458.3,310.3 458.4,309.4 458.6,308.6 458.7,309.8 458.9,309.9 459.0,310.8 459.2,312.4 459.3,311.1 459.5,310.2 459.6,310.8 459.8,310.8 459.9,311.0 460.1,312.5 460.2,312.3 460.4,312.0 460.5,311.2 460.7,311.9 460.8,311.1 461.0,312.4 461.1,311.1 461.3,310.6 461.4,311.0 461.6,312.3 461.7,309.1 461.9,310.0 462.0,308.7 462.2,307.7 462.3,308.5 462.5,309.8 462.6,307.7 462.8,308.3 462.9,310.7 463.1,310.9 463.2,309.6 463.4,310.2 463.5,309.9 463.7,309.3 463.8,308.9 464.0,310.8 464.1,309.6 464.3,309.9 464.4,309.6 464.6,308.7 464.7,309.7 464.9,312.0 465.0,310.1 465.2,310.5 465.3,311.8 465.5,311.6 465.6,309.0 465.8,307.1 465.9,305.1 466.1,303.0 466.2,300.9 466.4,298.9 466.5,296.7 466.7,295.1 466.8,293.1 467.0,291.1 467.1,288.8 467.3,287.0 467.4,289.0 467.6,291.8 467.7,293.8 467.9,296.4 468.0,298.4 468.2,300.9 468.3,303.2 468.5,305.5 468.6,307.5 468.8,309.3 468.9,312.0 469.1,314.1 469.2,316.1 469.4,318.4 469.5,321.0 469.7,321.1 469.8,320.0 470.0,318.9 470.1,317.9 470.3,316.4 470.4,315.2 470.6,314.0 470.7,312.9 470.9,311.7 471.0,310.7 471.2,309.4 471.3,308.3 471.5,307.4 471.6,306.0 471.8,305.0 471.9,303.5 472.1,302.3 472.2,301.9 472.4,301.0 472.5,300.7 472.7,299.4 472.8,298.5 473.0,298.3 473.1,297.8 473.3,296.7 473.4,296.7 473.6,296.2 473.7,295.4 473.9,295.0 474.0,294.4 474.2,293.7 474.3,292.9 474.5,292.5 474.6,291.7 474.8,291.1 474.9,290.2 475.1,289.9 475.1,290.0" fill="none" stroke="#7e0021" stroke-width="3.0" stroke-linejoin="round" stroke-linecap="butt"/>
<polyline points="44.6,570.1 136.0,567.5 240.0,565.8 300.0,564.6 420.0,563.9 475.3,563.4" fill="none" stroke="#579d1c" stroke-width="3.0" stroke-linejoin="round" stroke-linecap="butt"/>
<polyline points="44.5,474.0 45.5,473.3 46.7,455.2 48.2,437.9 50.5,425.8 52.4,423.5 55.0,430.3 57.3,434.8 59.5,437.1 61.8,433.0 62.1,431.9 62.5,431.4 62.9,429.9 63.2,429.2 63.6,427.9 63.9,427.6 64.2,426.8 64.6,426.3 64.9,425.1 65.3,424.2 65.6,423.2 66.0,422.1 66.3,421.3 66.7,420.3 67.0,419.7 67.4,419.4 67.7,418.7 68.1,418.0 68.4,417.9 68.8,417.1 69.1,416.1 69.5,415.5 69.8,414.7 70.2,414.0 70.5,413.4 70.9,413.3 71.2,412.9 71.6,412.5 71.9,412.3 72.3,412.4 72.6,411.8 73.0,411.3 73.3,411.6 73.7,410.7 74.0,410.3 74.4,410.5 74.7,411.3 75.1,411.0 75.4,410.6 75.8,411.3 76.1,411.5 76.5,411.7 76.8,412.1 77.2,412.4 77.5,412.7 77.9,412.8 78.2,413.4 78.6,413.8 78.9,413.4 79.3,413.0 79.6,413.1 80.0,412.9 80.3,412.4 80.7,412.2 81.0,412.4 81.4,412.2 81.7,412.0 82.1,411.9 82.4,411.7 82.8,411.6 83.1,411.0 83.5,411.5 83.8,411.3 84.2,410.9 84.5,411.1 84.9,410.9 85.2,410.7 85.6,410.8 85.9,411.1 86.3,410.8 86.6,410.9 87.0,411.0 87.3,410.2 87.7,409.8 88.0,409.9 88.4,409.2 88.7,409.2 89.1,409.5 89.4,409.6 89.8,409.4 90.1,408.7 90.5,409.3 90.8,409.1 91.2,409.0 91.5,408.8 91.9,408.1 92.2,407.8 92.6,407.9 92.9,408.7 93.3,408.5 93.6,408.6 94.0,408.7 94.3,409.0 94.7,409.1 95.0,409.2 95.4,409.0 95.7,408.5 96.1,409.2 96.4,409.7 96.8,410.3 97.1,410.4 97.5,410.4 97.8,410.8 98.2,410.6 98.5,410.7 98.9,410.9 99.2,411.2 99.6,411.9 99.9,411.9 100.3,412.1 100.6,411.9 101.0,411.9 101.3,411.7 101.7,411.6 102.0,411.1 102.4,411.1 102.7,411.1 103.1,411.7 103.4,411.9 103.8,412.2 104.1,412.5 104.5,412.2 104.8,412.4 105.2,412.7 105.5,412.5 105.9,412.6 106.2,412.3 106.6,411.9 106.9,412.0 107.3,411.9 107.6,412.1 108.0,412.0 108.3,412.2 108.7,411.7 109.0,412.5 109.4,412.7 109.7,412.5 110.1,412.2 110.4,412.3 110.8,412.5 111.1,412.5 111.5,412.6 111.8,412.0 112.2,411.8 112.5,412.3 112.9,412.3 113.2,411.8 113.6,411.7 113.9,411.4 114.3,411.4 114.6,411.8 115.0,411.7 115.3,412.0 115.7,411.8 116.0,411.3 116.4,411.2 116.7,411.9 117.1,411.4 117.4,411.2 117.8,411.7 118.1,411.8 118.5,411.8 118.8,412.2 119.2,411.6 119.5,411.9 119.9,411.7 120.2,411.6 120.6,411.7 120.9,412.3 121.3,412.3 121.6,411.9 122.0,411.9 122.3,412.6 122.7,412.9 123.0,412.6 123.4,413.4 123.7,413.1 124.1,412.8 124.4,413.0 124.8,413.4 125.1,413.8 125.5,414.0 125.8,413.8 126.2,413.7 126.5,413.4 126.9,413.7 127.2,413.8 127.6,414.1 127.9,413.9 128.3,414.1 128.6,414.1 129.0,414.1 129.3,414.2 129.7,414.3 130.0,414.3 130.4,414.8 130.7,415.0 131.1,414.8 131.4,415.2 131.8,415.3 132.1,415.8 132.5,415.6 132.8,415.6 133.2,415.4 133.5,415.6 133.9,415.8 134.2,415.9 134.6,415.9 134.9,416.1 135.3,416.1 135.6,416.2 136.0,415.8 136.3,415.8 136.7,415.4 137.0,415.1 137.4,415.2 137.7,415.6 138.1,415.5 138.4,415.2 138.8,414.8 139.1,414.9 139.5,414.9 139.8,414.9 140.2,414.4 140.5,414.1 140.9,413.8 141.2,413.6 141.6,413.2 141.9,413.1 142.3,412.5 142.6,412.3 143.0,412.6 143.3,412.5 143.7,412.9 144.0,412.6 144.4,412.7 144.7,413.0 145.1,412.7 145.4,412.7 145.8,413.5 146.1,413.2 146.5,413.0 146.8,412.9 147.2,413.1 147.5,413.1 147.9,413.4 148.2,413.6 148.6,413.3 148.9,413.2 149.3,412.9 149.6,412.7 150.0,412.8 150.3,413.3 150.7,413.4 151.0,413.6 151.4,413.8 151.7,413.6 152.1,414.1 152.4,413.7 152.8,413.5 153.1,413.4 153.5,413.8 153.8,413.7 154.2,413.5 154.5,413.7 154.9,414.0 155.2,413.9 155.6,413.8 155.9,414.1 156.3,414.2 156.6,414.3 157.0,413.9 157.3,414.0 157.7,414.1 158.0,413.6 158.4,414.1 158.7,414.1 159.1,414.0 159.4,414.6 159.8,414.4 160.1,414.1 160.5,414.1 160.8,414.3 161.2,414.5 161.5,414.4 161.9,414.1 162.2,414.0 162.6,414.0 162.9,413.9 163.3,414.1 163.6,414.2 164.0,414.3 164.3,414.2 164.7,414.1 165.0,414.3 165.4,414.3 165.7,414.8 166.1,414.5 166.4,414.7 166.8,414.7 167.1,414.5 167.5,414.9 167.8,415.0 168.2,414.5 168.5,414.9 168.9,415.3 169.2,415.0 169.6,415.6 169.9,415.5 170.3,415.1 170.6,415.4 171.0,415.4 171.3,415.1 171.7,414.8 172.0,415.2 172.4,415.3 172.7,415.6 173.1,415.8 173.4,415.7 173.8,415.7 174.1,416.3 174.5,416.6 174.8,416.6 175.2,416.3 175.5,416.0 175.9,416.0 176.2,416.6 176.6,416.6 176.9,416.4 177.3,416.1 177.6,416.4 178.0,416.2 178.3,416.5 178.7,416.8 179.0,417.1 179.4,417.1 179.7,417.0 180.1,417.2 180.4,417.7 180.8,417.6 181.1,417.2 181.5,417.8 181.8,417.8 182.2,418.7 182.5,418.2 182.9,418.0 183.2,418.0 183.6,418.1 183.9,418.0 184.3,417.8 184.6,417.6 185.0,418.0 185.3,418.1 185.7,418.2 186.0,419.0 186.4,419.2 186.7,419.3 187.1,419.1 187.4,419.2 187.8,419.2 188.1,419.2 188.5,419.5 188.8,419.6 189.2,419.6 189.5,419.4 189.9,419.0 190.2,418.8 190.6,419.0 190.9,418.9 191.3,418.7 191.6,418.9 192.0,418.7 192.3,418.5 192.7,418.9 193.0,418.7 193.4,419.0 193.7,419.0 194.1,419.0 194.4,419.0 194.8,418.2 195.1,418.4 195.5,418.3 195.8,418.5 196.2,418.7 196.5,419.3 196.9,419.3 197.2,419.8 197.6,419.6 197.9,419.6 198.3,419.7 198.6,420.1 199.0,420.0 199.3,419.9 199.7,420.0 200.0,419.8 200.4,420.5 200.7,420.7 201.1,420.8 201.4,420.9 201.8,420.8 202.1,420.7 202.5,420.9 202.8,420.5 203.2,420.2 203.5,420.6 203.9,420.8 204.2,420.5 204.6,420.4 204.9,420.2 205.3,420.3 205.6,419.9 206.0,419.7 206.3,419.7 206.7,419.8 207.0,419.4 207.4,419.3 207.7,419.0 208.1,418.7 208.4,418.5 208.8,418.5 209.1,418.7 209.5,418.4 209.8,418.3 210.2,418.3 210.5,418.4 210.9,418.6 211.2,418.2 211.6,418.4 211.9,418.1 212.3,418.4 212.6,418.2 213.0,418.0 213.3,418.0 213.7,418.1 214.0,418.0 214.4,418.2 214.7,418.3 215.1,418.3 215.4,418.4 215.8,418.6 216.1,418.2 216.5,418.3 216.8,418.2 217.2,417.7 217.5,418.0 217.9,417.9 218.2,417.9 218.6,417.9 218.9,418.1 219.3,418.3 219.6,418.4 220.0,418.2 220.3,418.5 220.7,418.6 221.0,418.5 221.4,418.5 221.7,418.8 222.1,418.8 222.4,418.9 222.8,418.9 223.1,419.1 223.5,419.5 223.8,419.4 224.2,418.8 224.5,419.3 224.9,419.0 225.2,418.7 225.6,418.3 225.9,418.8 226.3,419.2 226.6,419.5 227.0,419.3 227.3,419.6 227.7,419.5 228.0,419.3 228.4,419.4 228.7,419.5 229.1,419.5 229.4,419.7 229.8,419.1 230.1,419.8 230.5,419.6 230.8,419.9 231.2,419.7 231.5,419.9 231.9,419.9 232.2,419.6 232.6,419.9 232.9,420.2 233.3,419.9 233.6,419.6 234.0,419.8 234.3,419.9 234.7,420.2 235.0,420.3 235.4,420.9 235.7,420.9 236.1,420.8 236.4,420.8 236.8,420.1 237.1,420.2 237.5,420.3 237.8,420.6 238.2,420.9 238.5,421.0 238.9,421.3 239.2,421.1 239.6,421.3 239.9,421.3 240.3,421.3 240.6,421.5 241.0,421.4 241.3,421.4 241.7,421.4 242.0,421.7 242.4,421.5 242.7,421.6 243.1,422.2 243.4,422.0 243.8,421.9 244.1,422.0 244.5,421.5 244.8,421.7 245.2,421.8 245.5,421.8 245.9,421.9 246.2,421.9 246.6,422.0 246.9,421.6 247.3,421.7 247.6,421.5 248.0,421.8 248.3,421.7 248.7,421.3 249.0,421.4 249.4,421.2 249.7,421.6 250.1,421.5 250.4,421.0 250.8,421.2 251.1,421.6 251.5,421.7 251.8,421.5 252.2,421.7 252.5,421.8 252.9,422.1 253.2,422.2 253.6,422.1 253.9,421.8 254.3,422.0 254.6,422.1 255.0,422.1 255.3,422.2 255.7,421.9 256.0,422.2 256.4,422.3 256.7,422.4 257.1,422.4 257.4,422.4 257.8,422.6 258.1,422.8 258.5,422.7 258.8,422.8 259.2,422.6 259.5,422.9 259.9,422.9 260.2,422.7 260.6,423.2 260.9,422.9 261.3,423.1 261.6,422.9 262.0,422.7 262.3,423.2 262.7,423.0 263.0,422.7 263.4,423.1 263.7,423.0 264.1,423.3 264.4,424.0 264.8,423.8 265.1,424.0 265.5,424.2 265.8,424.3 266.2,424.3 266.5,424.8 266.9,424.7 267.2,424.8 267.6,424.9 267.9,424.6 268.3,424.9 268.6,425.1 269.0,425.4 269.3,425.6 269.7,426.0 270.0,425.4 270.4,425.4 270.7,425.5 271.1,425.5 271.4,425.9 271.8,426.1 272.1,426.2 272.5,425.8 272.8,425.7 273.2,425.9 273.5,425.9 273.9,425.9 274.2,426.0 274.6,426.0 274.9,425.8 275.3,426.4 275.6,426.2 276.0,426.3 276.3,426.4 276.7,426.6 277.0,426.3 277.4,426.0 277.7,426.2 278.1,426.3 278.4,425.6 278.8,425.2 279.1,425.5 279.5,425.7 279.8,425.9 280.2,426.3 280.5,426.2 280.9,427.1 281.2,427.2 281.6,427.4 281.9,427.3 282.3,426.7 282.6,427.0 283.0,427.1 283.3,427.4 283.7,427.4 284.0,427.7 284.4,427.6 284.7,427.6 285.1,427.8 285.4,427.8 285.8,427.8 286.1,428.0 286.5,428.4 286.8,428.0 287.2,428.1 287.5,427.6 287.9,427.4 288.2,427.5 288.6,427.6 288.9,427.2 289.3,427.3 289.6,427.2 290.0,427.5 290.3,427.4 290.7,427.3 291.0,427.0 291.4,426.9 291.7,426.6 292.1,426.4 292.4,426.1 292.8,426.1 293.1,426.1 293.5,426.4 293.8,426.7 294.2,426.4 294.5,426.6 294.9,426.9 295.2,427.2 295.6,427.1 295.9,427.1 296.3,427.0 296.6,427.3 297.0,426.8 297.3,427.0 297.7,426.5 298.0,427.2 298.4,427.5 298.7,426.8 299.1,426.9 299.4,426.7 299.8,426.6 300.1,426.8 300.5,426.8 300.8,427.3 301.2,427.2 301.5,427.1 301.9,427.2 302.2,427.4 302.6,427.7 302.9,427.7 303.3,427.3 303.6,427.2 304.0,427.3 304.4,427.3 304.7,427.6 305.1,427.5 305.4,427.6 305.8,427.5 306.1,427.6 306.5,427.3 306.8,428.0 307.2,427.8 307.5,427.6 307.9,427.3 308.2,427.5 308.6,427.3 308.9,427.7 309.3,428.1 309.6,428.2 310.0,428.0 310.3,428.3 310.7,428.1 311.0,428.1 311.4,428.1 311.7,428.0 312.1,428.1 312.4,427.9 312.8,427.7 313.1,428.4 313.5,428.3 313.8,428.4 314.2,428.7 314.5,428.7 314.9,428.6 315.2,428.8 315.6,428.8 315.9,429.2 316.3,429.3 316.6,429.4 317.0,429.8 317.3,429.4 317.7,429.3 318.0,429.9 318.4,430.4 318.7,430.4 319.1,430.3 319.4,430.7 319.8,430.8 320.1,430.9 320.5,430.2 320.8,430.3 321.2,430.1 321.5,430.0 321.9,430.3 322.2,430.5 322.6,430.3 322.9,430.3 323.3,430.6 323.6,430.7 324.0,430.5 324.3,430.5 324.7,430.4 325.0,430.1 325.4,430.0 325.7,430.2 326.1,430.4 326.4,430.0 326.8,429.9 327.1,429.9 327.5,429.6 327.8,430.2 328.2,430.3 328.5,430.5 328.9,429.8 329.2,429.7 329.6,430.4 329.9,429.9 330.3,429.5 330.6,429.9 331.0,430.4 331.3,430.5 331.7,430.1 332.0,430.3 332.4,430.4 332.7,430.4 333.1,430.5 333.4,430.6 333.8,430.8 334.1,431.0 334.5,431.0 334.8,430.7 335.2,430.2 335.5,430.5 335.9,430.2 336.2,430.9 336.6,430.5 336.9,430.1 337.3,429.9 337.6,430.4 338.0,430.6 338.3,430.9 338.7,430.9 339.0,430.7 339.4,431.0 339.7,430.8 340.1,430.5 340.4,430.9 340.8,431.1 341.1,430.8 341.5,430.7 341.8,430.9 342.2,430.9 342.5,430.3 342.9,430.4 343.2,429.5 343.6,429.6 343.9,429.7 344.3,429.5 344.6,429.4 345.0,428.9 345.3,429.1 345.7,429.4 346.0,429.3 346.4,429.5 346.7,429.6 347.1,429.1 347.4,429.3 347.8,429.8 348.1,429.5 348.5,429.8 348.8,430.0 349.2,429.8 349.5,430.0 349.9,430.4 350.2,430.6 350.6,430.3 350.9,430.7 351.3,430.8 351.6,430.8 352.0,431.2 352.3,431.2 352.7,431.2 353.0,431.4 353.4,431.4 353.7,431.5 354.1,431.2 354.4,430.6 354.8,431.1 355.1,431.1 355.5,431.1 355.8,430.9 356.2,430.8 356.5,430.7 356.9,430.4 357.2,430.7 357.6,430.6 357.9,430.3 358.3,430.4 358.6,430.3 359.0,430.3 359.3,430.5 359.7,431.0 360.0,430.4 360.4,430.4 360.7,430.5 361.1,430.4 361.4,430.6 361.8,430.3 362.1,430.2 362.5,430.3 362.8,430.1 363.2,430.6 363.5,430.4 363.9,430.7 364.2,431.1 364.6,430.9 364.9,431.0 365.3,431.0 365.6,431.6 366.0,431.6 366.3,431.2 366.7,431.7 367.0,432.0 367.4,431.4 367.7,431.0 368.1,432.1 368.4,432.2 368.8,431.7 369.1,432.3 369.5,432.7 369.8,432.0 370.2,432.6 370.5,432.9 370.9,432.9 371.2,432.7 371.6,433.0 371.9,432.8 372.3,433.1 372.6,433.1 373.0,433.1 373.3,433.4 373.7,433.8 374.0,434.0 374.4,434.0 374.7,434.4 375.1,433.9 375.4,434.0 375.8,434.1 376.1,434.5 376.5,433.9 376.8,434.0 377.2,434.1 377.5,434.3 377.9,434.9 378.2,434.8 378.6,434.6 378.9,434.7 379.3,434.9 379.6,434.7 380.0,435.1 380.3,434.7 380.7,435.0 381.0,435.1 381.4,435.2 381.7,435.5 382.1,435.2 382.4,434.8 382.8,434.2 383.1,433.4 383.5,432.7 383.8,432.0 384.2,431.8 384.5,430.6 384.9,430.0 385.2,429.7 385.6,429.6 385.9,429.1 386.3,429.3 386.6,429.0 387.0,428.7 387.3,428.2 387.7,428.3 388.0,428.7 388.4,428.5 388.7,428.0 389.1,428.1 389.4,427.6 389.8,427.3 390.1,427.7 390.5,427.7 390.8,427.8 391.2,427.6 391.5,427.3 391.9,427.2 392.2,427.0 392.6,427.1 392.9,426.6 393.3,426.2 393.6,426.3 394.0,426.9 394.3,426.8 394.7,426.4 395.0,427.5 395.4,427.2 395.7,427.3 396.1,427.6 396.4,427.7 396.8,427.7 397.1,427.4 397.5,427.8 397.8,427.7 398.2,427.8 398.5,428.2 398.9,428.2 399.2,427.8 399.6,428.0 399.9,428.4 400.3,428.7 400.6,428.4 401.0,428.7 401.3,428.9 401.7,429.2 402.0,429.3 402.4,429.4 402.7,429.3 403.1,429.5 403.4,429.7 403.8,429.7 404.1,429.7 404.5,430.2 404.8,430.1 405.2,429.9 405.5,430.2 405.9,429.9 406.2,429.9 406.6,430.4 406.9,430.5 407.3,430.8 407.6,431.0 408.0,430.7 408.3,431.0 408.7,430.9 409.0,431.1 409.4,431.3 409.7,431.3 410.1,431.1 410.4,431.5 410.8,431.6 411.1,431.9 411.5,431.7 411.8,432.0 412.2,432.1 412.5,432.2 412.9,432.3 413.2,432.4 413.6,432.3 413.9,432.6 414.3,432.9 414.6,433.5 415.0,433.8 415.3,434.5 415.7,434.8 416.0,435.0 416.4,435.3 416.7,435.1 417.1,435.6 417.4,436.3 417.8,436.2 418.1,436.6 418.5,436.6 418.8,436.4 419.2,436.1 419.5,436.0 419.9,435.8 420.2,435.7 420.6,435.7 420.9,435.7 421.3,435.3 421.6,435.6 422.0,435.3 422.3,435.4 422.7,435.4 423.0,435.2 423.4,435.8 423.7,435.4 424.1,435.3 424.4,435.0 424.8,435.0 425.1,434.5 425.5,434.7 425.8,434.6 426.2,434.4 426.5,434.6 426.9,435.0 427.2,435.0 427.6,434.9 427.9,434.7 428.3,434.9 428.6,435.5 429.0,435.9 429.3,435.8 429.7,436.0 430.0,436.5 430.4,436.3 430.7,436.3 431.1,436.3 431.4,436.6 431.8,436.3 432.1,436.6 432.5,436.9 432.8,436.8 433.2,437.0 433.5,436.9 433.9,436.6 434.2,436.2 434.6,436.0 434.9,436.2 435.3,436.1 435.6,436.1 436.0,435.9 436.3,436.3 436.7,436.5 437.0,436.5 437.4,436.1 437.7,436.8 438.1,436.8 438.4,436.3 438.8,436.5 439.1,436.4 439.5,436.2 439.8,436.1 440.2,436.3 440.5,436.4 440.9,436.5 441.2,436.6 441.6,436.6 441.9,437.0 442.3,437.2 442.6,437.5 443.0,437.9 443.3,438.5 443.7,438.4 444.0,438.8 444.4,438.3 444.7,438.4 445.1,438.4 445.4,438.2 445.8,438.0 446.1,437.7 446.5,437.5 446.8,437.7 447.2,437.7 447.5,438.0 447.9,437.4 448.2,437.1 448.6,437.1 448.9,437.0 449.3,436.8 449.6,436.7 450.0,436.7 450.3,437.0 450.7,436.8 451.0,436.4 451.4,436.5 451.7,435.8 452.1,436.2 452.4,436.7 452.8,437.4 453.1,437.4 453.5,438.0 453.8,438.4 454.2,439.3 454.5,439.6 454.9,439.4 455.2,439.5 455.6,439.2 455.9,439.3 456.3,439.4 456.6,439.7 457.0,439.4 457.3,438.9 457.7,439.3 458.0,439.1 458.4,439.1 458.7,439.1 459.1,439.6 459.4,439.4 459.8,439.5 460.1,439.3 460.5,438.9 460.8,439.0 461.2,439.1 461.5,438.8 461.9,438.4 462.2,439.3 462.6,439.8 462.9,439.6 463.3,439.6 463.6,439.8 464.0,439.9 464.3,439.5 464.7,439.4 465.0,439.9 465.4,440.7 465.7,442.3 466.1,443.9 466.4,445.4 466.8,446.9 467.1,445.8 467.5,444.4 467.8,443.2 468.2,442.0 468.5,441.0 468.9,440.7 469.2,439.9 469.6,439.2 469.9,439.2 470.3,440.1 470.6,442.0 471.0,443.9 471.3,445.8 471.7,447.7 472.0,450.7 472.4,454.7 472.7,458.7 473.1,462.7 473.4,465.0 473.8,463.5 474.1,462.1 474.5,463.0 474.8,464.7 475.1,466.1" fill="none" stroke="#ffd320" stroke-width="3.0" stroke-linejoin="round" stroke-linecap="butt"/>
<polyline points="44.3,625.7 51.2,622.7 58.7,619.0 66.3,611.8 73.9,604.5 79.2,604.5 86.0,601.9 92.8,600.8 99.6,601.6 108.7,602.4 117.8,602.7 123.9,604.5 129.9,606.0 136.0,605.9 144.5,605.4 159.0,607.1 173.4,608.3 185.5,610.2 202.4,610.7 208.4,609.7 221.7,610.2 238.6,611.2 255.5,611.6 274.8,613.1 290.0,613.8 299.3,613.6 318.6,615.0 342.7,614.5 364.5,615.0 381.4,616.7 400.7,618.4 420.0,619.5 438.2,619.6 456.4,620.0 468.5,620.2 472.3,620.6 475.3,622.1" fill="none" stroke="#ff420e" stroke-width="3.0" stroke-linejoin="round" stroke-linecap="butt"/>
<polyline points="44.3,575.4 51.2,577.7 58.7,581.5 66.3,589.8 73.9,596.9 79.2,596.9 86.0,599.6 92.8,601.2 99.6,599.6 108.7,598.4 117.8,598.4 123.9,596.3 129.9,594.8 136.0,595.0 144.5,595.7 159.0,593.8 173.4,592.1 185.5,590.2 202.4,589.9 208.4,591.4 221.7,590.9 238.6,589.4 255.5,589.0 274.8,587.6 290.0,587.5 299.3,587.0 318.6,586.1 342.7,585.8 364.5,585.2 381.4,584.1 400.7,582.9 420.0,582.0 438.2,581.6 456.4,580.8 468.5,580.6 472.3,580.0 475.3,578.8" fill="none" stroke="#004586" stroke-width="3.0" stroke-linejoin="round" stroke-linecap="butt"/>
<text transform="translate(35.2,9.8) scale(0.848,1)" text-anchor="end">250,0</text>
<text transform="translate(35.2,133.8) scale(0.848,1)" text-anchor="end">200,0</text>
<text transform="translate(35.2,257.8) scale(0.848,1)" text-anchor="end">150,0</text>
<text transform="translate(35.2,381.8) scale(0.848,1)" text-anchor="end">100,0</text>
<text transform="translate(35.2,505.8) scale(0.848,1)" text-anchor="end">50,0</text>
<text transform="translate(35.8,629.8) scale(0.848,1)" text-anchor="end">0,0</text>
<text transform="translate(44.85,646.9) scale(0.848,1)" text-anchor="middle">0</text>
<text transform="translate(117.0,646.9) scale(0.848,1)" text-anchor="middle">500</text>
<text transform="translate(188.0,646.9) scale(0.828,1)" text-anchor="middle">1000</text>
<text transform="translate(260.0,646.9) scale(0.828,1)" text-anchor="middle">1500</text>
<text transform="translate(331.75,646.9) scale(0.828,1)" text-anchor="middle">2000</text>
<text transform="translate(403.75,646.9) scale(0.828,1)" text-anchor="middle">2500</text>
<text transform="translate(474.9,646.9) scale(0.828,1)" text-anchor="middle">3000</text>
<text transform="translate(546.9,646.9) scale(0.828,1)" text-anchor="middle">3500</text>
<line x1="578.7" y1="279.05" x2="608" y2="279.05" stroke="#004586" stroke-width="3"/>
<text transform="translate(611.3,283.2) scale(0.848,1)">O2</text>
<line x1="578.7" y1="297.19" x2="608" y2="297.19" stroke="#ff420e" stroke-width="3"/>
<text transform="translate(611.3,301.3) scale(0.848,1)">CO2</text>
<line x1="578.7" y1="315.33" x2="608" y2="315.33" stroke="#ffd320" stroke-width="3"/>
<text transform="translate(611.3,319.4) scale(0.848,1)">ETA</text>
<line x1="578.7" y1="333.47" x2="608" y2="333.47" stroke="#579d1c" stroke-width="3"/>
<text transform="translate(611.3,337.6) scale(0.848,1)">TAir</text>
<line x1="578.7" y1="351.61" x2="608" y2="351.61" stroke="#7e0021" stroke-width="3"/>
<text transform="translate(611.3,355.7) scale(0.848,1)">TGas</text>
<line x1="578.7" y1="369.75" x2="608" y2="369.75" stroke="#83caff" stroke-width="3"/>
<text transform="translate(611.3,373.9) scale(0.848,1)">Lambda</text>
<rect x="0" y="0" width="663" height="1" fill="#000"/>
<rect x="325" y="659" width="9" height="1" fill="#222"/>
</svg></body></html>
